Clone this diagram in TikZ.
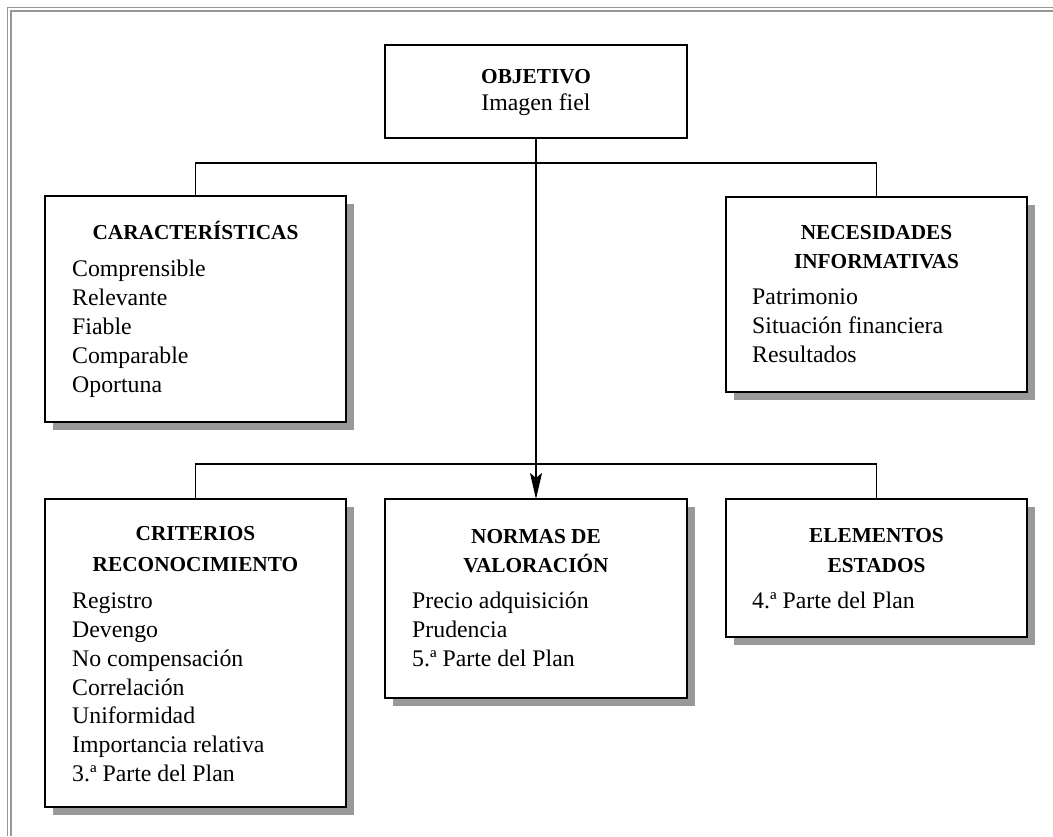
\documentclass[tikz,border=0pt]{standalone}
\usepackage{fontspec}
\setmainfont{Liberation Serif}
\usetikzlibrary{arrows.meta,shadows}
\definecolor{shade}{RGB}{153,153,153}
\definecolor{framegray}{RGB}{150,150,150}
\begin{document}
\begin{tikzpicture}[x=1pt,y=-1pt,
  plainbox/.style={draw=black, line width=1.3pt, fill=white, inner sep=0pt, outer sep=0pt, anchor=north west},
  shbox/.style={plainbox, drop shadow={shadow xshift=8pt, shadow yshift=-8pt, fill=shade, opacity=1}},
  head/.style={font=\fontsize{21.3}{24}\selectfont\bfseries, anchor=base, inner sep=0pt},
  itemc/.style={font=\fontsize{23.8}{28}\selectfont, anchor=base, inner sep=0pt},
  item/.style={font=\fontsize{23.8}{28}\selectfont, anchor=base west, inner sep=0pt},
  link/.style={line width=1.3pt, draw=black}]
\useasboundingbox (0,0) rectangle (1053,836);
% frame
\draw[framegray, line width=1pt] (7.5,836) -- (7.5,7.5) -- (1053,7.5);
\draw[framegray, line width=2pt] (11.3,836) -- (11.3,11.3) -- (1053,11.3);
% boxes
\node[plainbox, minimum width=302pt, minimum height=93pt] (obj) at (385,45) {};
\node[shbox, minimum width=301pt, minimum height=226pt] (car) at (45,196) {};
\node[shbox, minimum width=301pt, minimum height=195pt] (nec) at (726,197) {};
\node[shbox, minimum width=301pt, minimum height=308pt] (cri) at (45,499) {};
\node[shbox, minimum width=302pt, minimum height=199pt] (nor) at (385,499) {};
\node[shbox, minimum width=301pt, minimum height=138pt] (ele) at (726,499) {};
% connectors
\coordinate (j1) at (536,163);
\coordinate (j2) at (536,464);
\draw[link] (car.north) |- (j1) -| (nec.north);
\draw[link] (cri.north) |- (j2) -| (ele.north);
\draw[link, -{Stealth[length=26pt, width=12pt, inset=5pt]}] (obj.south) -- (nor.north);
% texts
\node[head] (objh) at (536,83) {OBJETIVO};
\node[itemc] (objt) at (536,110) {Imagen fiel};

\node[head] (carh) at (195.5,239) {CARACTERÍSTICAS};
\node[item] (car1) at (72,276) {Comprensible};
\node[item] (car2) at (72,305) {Relevante};
\node[item] (car3) at (72,334) {Fiable};
\node[item] (car4) at (72,363) {Comparable};
\node[item] (car5) at (72,392) {Oportuna};

\node[head] (nech1) at (876.5,239) {NECESIDADES};
\node[head] (nech2) at (876.5,268) {INFORMATIVAS};
\node[item] (nec1) at (752,304) {Patrimonio};
\node[item] (nec2) at (752,333) {Situación financiera};
\node[item] (nec3) at (752,362) {Resultados};

\node[head] (crih1) at (195.5,540) {CRITERIOS};
\node[head] (crih2) at (195.5,571) {RECONOCIMIENTO};
\node[item] (cri1) at (72,608) {Registro};
\node[item] (cri2) at (72,637) {Devengo};
\node[item] (cri3) at (72,666) {No compensación};
\node[item] (cri4) at (72,695) {Correlación};
\node[item] (cri5) at (72,723.5) {Uniformidad};
\node[item] (cri6) at (72,752) {Importancia relativa};
\node[item] (cri7) at (72,781) {3.ª Parte del Plan};

\node[head] (norh1) at (536,543) {NORMAS DE};
\node[head] (norh2) at (536,572) {VALORACIÓN};
\node[item] (nor1) at (412,608) {Precio adquisición};
\node[item] (nor2) at (412,637) {Prudencia};
\node[item] (nor3) at (412,666) {5.ª Parte del Plan};

\node[head] (eleh1) at (876.5,542) {ELEMENTOS};
\node[head] (eleh2) at (876.5,572) {ESTADOS};
\node[item] (ele1) at (752,608) {4.ª Parte del Plan};
\end{tikzpicture}
\end{document}
